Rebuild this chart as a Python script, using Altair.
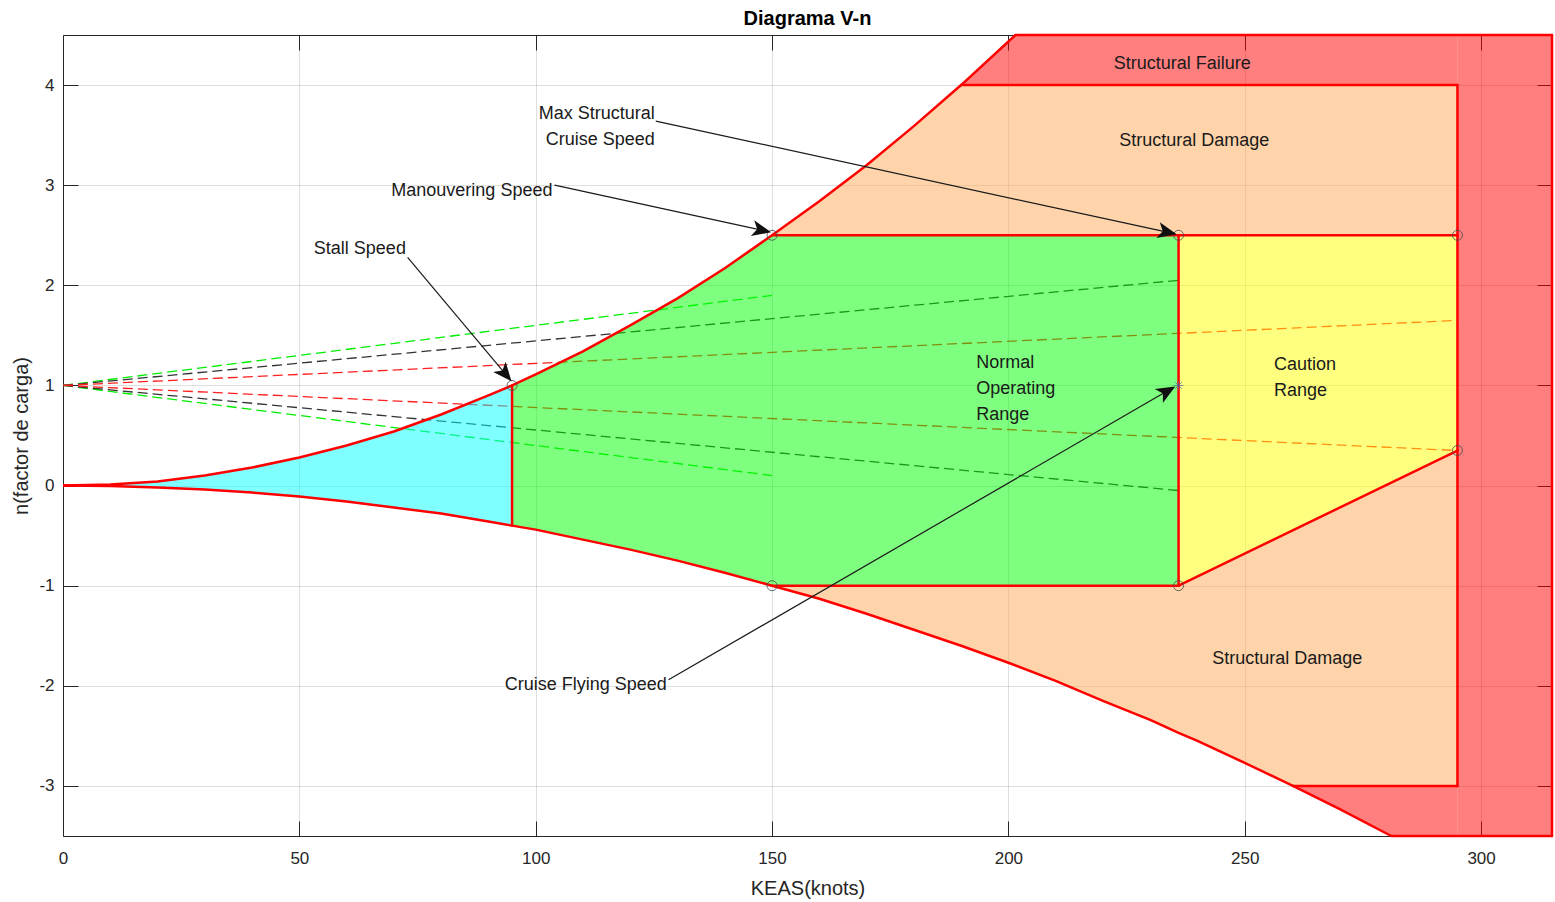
import math

import altair as alt
import numpy as np
import pandas as pd

# Positive stall boundary n = f(KEAS)
pos_keas = [0, 10, 20, 30, 40, 50, 60, 70, 80, 90, 95, 100, 110, 120, 130, 140, 150, 160, 170, 180, 190, 201.5]
pos_n = [0, 0.01, 0.04, 0.10, 0.18, 0.28, 0.40, 0.54, 0.71, 0.90, 1.00, 1.11, 1.34, 1.60, 1.87, 2.17, 2.50,
         2.84, 3.20, 3.59, 4.00, 4.50]

# Negative stall boundary
neg_keas = [0, 10, 20, 30, 40, 50, 60, 70, 80, 90, 95, 100, 110, 120, 130, 140, 150, 160, 170, 180, 190, 200,
            210, 220, 230, 236, 240, 250, 260.2, 270, 281]
neg_n = [0, -0.004, -0.02, -0.04, -0.07, -0.11, -0.16, -0.22, -0.28, -0.36, -0.40, -0.44, -0.54, -0.64, -0.75,
         -0.87, -1.00, -1.13, -1.28, -1.44, -1.60, -1.77, -1.95, -2.15, -2.34, -2.47, -2.55, -2.77, -3.00, -3.23,
         -3.50]

# Characteristic speeds (knots) and load-factor limits
v_stall, v_man, v_cruise, v_dive, v_max = 95, 150, 236, 295, 315
v_ult_pos, v_ult_neg = 190, 260.2
n_lim_pos, n_lim_neg, n_dive_neg = 2.5, -1.0, 0.35
n_ult_pos, n_ult_neg = 4.0, -3.0
n_top, n_bottom = 4.5, -3.5

# Region fill colours (drawn at half opacity)
region_colors = {
    "stall": "#00ffff",
    "normal": "#00ff00",
    "caution": "#ffff00",
    "damage": "#ffa955",
    "failure": "#ff0000",
}

# Gust lines, all starting at (0, 1)
gust_end_keas = [150, 150, 236, 236, 295, 295]
gust_end_n = [1.90, 0.10, 2.05, -0.05, 1.65, 0.35]
gust_color = ["#00ee00", "#00ee00", "#333333", "#333333", "#ff2020", "#ff2020"]

# Marked points of the envelope
mark_keas = [95, 150, 236, 295, 150, 236, 295]
mark_n = [1.0, 2.5, 2.5, 2.5, -1.0, -1.0, 0.35]
cruise_point = (236, 1.0)

# Callouts: end of the leader next to the text -> arrow tip
arrow_start_keas = [72.9, 104.0, 125.4, 128.1]
arrow_start_n = [2.28, 3.00, 3.64, -1.94]
arrow_tip_keas = [94.9, 149.8, 235.6, 235.3]
arrow_tip_n = [1.04, 2.53, 2.51, 0.99]

labels_center = ["Stall Speed", "Manouvering Speed", "Cruise Flying Speed",
                 "Structural Failure", "Structural Damage", "Structural Damage"]
labels_center_keas = [62.8, 86.5, 110.6, 236.8, 239.3, 259.0]
labels_center_n = [2.39, 2.97, -1.97, 4.24, 3.47, -1.71]
labels_left = ["Normal", "Operating", "Range", "Caution", "Range"]
labels_left_keas = [193.2, 193.2, 193.2, 256.2, 256.2]
labels_left_n = [1.25, 0.99, 0.73, 1.23, 0.97]
labels_right = ["Max Structural", "Cruise Speed"]
labels_right_keas = [125.2, 125.2]
labels_right_n = [3.74, 3.48]

x_ticks = [0, 50, 100, 150, 200, 250, 300]
y_ticks = [-3, -2, -1, 0, 1, 2, 3, 4]

W, H = 1489, 801
FONT = "Liberation Sans"
INK = "#262626"
RED = "#ff0000"

xs = alt.Scale(domain=[0, v_max], nice=False, zero=False)
ys = alt.Scale(domain=[n_bottom, n_top], nice=False, zero=False)


def upper(v):
    return float(np.interp(v, pos_keas, pos_n))


def lower(v):
    return float(np.interp(v, neg_keas, neg_n))


def slant(v):
    return float(np.interp(v, [v_cruise, v_dive], [n_lim_neg, n_dive_neg]))


grid_v = sorted(set(pos_keas) | set(neg_keas) | {v_cruise, v_dive, v_max})

# Plain hyphen for negative tick labels
minus_expr = "datum.value < 0 ? '-' + abs(datum.value) : '' + datum.value"

# Axes: labelled bottom/left with grid, inward ticks on all four sides
x_main = alt.Axis(values=x_ticks, orient="bottom", ticks=False, tickSize=0, domain=False, grid=True,
                  gridColor=INK, gridOpacity=0.15, labelFont=FONT, labelFontSize=17, labelColor=INK,
                  labelPadding=14, labelFlush=False, title="KEAS(knots)", titleFont=FONT, titleFontSize=20,
                  titleFontWeight="normal", titleColor=INK, titlePadding=12)
y_main = alt.Axis(values=y_ticks, orient="left", ticks=False, tickSize=0, domain=False, grid=True,
                  gridColor=INK, gridOpacity=0.15, labelFont=FONT, labelFontSize=17, labelColor=INK,
                  labelPadding=9, labelFlush=False, labelExpr=minus_expr, title="n(factor de carga)",
                  titleFont=FONT, titleFontSize=20, titleFontWeight="normal", titleColor=INK, titlePadding=7)


def tick_axis(orient, values):
    return alt.Axis(orient=orient, values=values, labels=False, domain=False, grid=False, ticks=True,
                    tickSize=15, tickColor=INK, tickWidth=1, offset=-15, title=None)


def region(name, v0, v1, top, bottom, axes=False):
    """One translucent band of the diagram between two boundaries."""
    df = pd.DataFrame([dict(keas=v, top=top(v), bottom=bottom(v)) for v in grid_v if v0 <= v <= v1])
    return alt.Chart(df).mark_area(opacity=0.5, color=region_colors[name]).encode(
        x=alt.X("keas:Q", scale=xs, axis=x_main if axes else None),
        y=alt.Y("top:Q", scale=ys, axis=y_main if axes else None),
        y2="bottom:Q",
    )


fill_layers = [
    region("stall", 0, v_stall, upper, lower, axes=True),
    region("normal", v_stall, v_cruise,
           lambda v: min(upper(v), n_lim_pos), lambda v: max(lower(v), n_lim_neg)),
    region("caution", v_cruise, v_dive, lambda v: n_lim_pos, slant),
    region("damage", v_man, v_dive, lambda v: min(upper(v), n_ult_pos), lambda v: n_lim_pos),
    region("damage", v_man, v_dive,
           lambda v: n_lim_neg if v <= v_cruise else slant(v), lambda v: max(lower(v), n_ult_neg)),
    region("failure", v_ult_pos, v_dive, lambda v: min(upper(v), n_top), lambda v: n_ult_pos),
    region("failure", v_dive, v_max, lambda v: n_top, lambda v: n_bottom),
    region("failure", v_ult_neg, v_dive, lambda v: n_ult_neg, lambda v: max(lower(v), n_bottom)),
]

# Gust lines (dashed), drawn under the translucent fills
gust = pd.DataFrame({
    "keas0": [0] * len(gust_end_keas), "n0": [1.0] * len(gust_end_keas),
    "keas1": gust_end_keas, "n1": gust_end_n, "color": gust_color,
})
gust_layer = alt.Chart(gust).mark_rule(strokeDash=[10, 5], strokeWidth=1.3).encode(
    x=alt.X("keas0:Q", scale=xs, axis=tick_axis("bottom", x_ticks)),
    y=alt.Y("n0:Q", scale=ys, axis=tick_axis("left", y_ticks)),
    x2="keas1:Q", y2="n1:Q",
    color=alt.Color("color:N", scale=None),
)

# Envelope outlines
curves = pd.DataFrame(
    [dict(curve="pos", keas=v, n=n) for v, n in zip(pos_keas, pos_n)]
    + [dict(curve="neg", keas=v, n=n) for v, n in zip(neg_keas, neg_n)]
)
curve_layer = alt.Chart(curves).mark_line(color=RED, strokeWidth=2.5, strokeJoin="round").encode(
    x=alt.X("keas:Q", scale=xs, axis=tick_axis("top", x_ticks)),
    y=alt.Y("n:Q", scale=ys, axis=tick_axis("right", y_ticks)),
    detail="curve:N",
    order="keas:Q",
)

segments = pd.DataFrame([
    (v_stall, lower(v_stall), v_stall, 1.0),
    (v_man, n_lim_pos, v_dive, n_lim_pos),
    (v_cruise, n_lim_neg, v_cruise, n_lim_pos),
    (v_man, n_lim_neg, v_cruise, n_lim_neg),
    (v_cruise, n_lim_neg, v_dive, n_dive_neg),
    (v_dive, n_ult_neg, v_dive, n_ult_pos),
    (v_ult_pos, n_ult_pos, v_dive, n_ult_pos),
    (v_ult_neg, n_ult_neg, v_dive, n_ult_neg),
    (pos_keas[-1], n_top, v_max, n_top),
    (v_max, n_top, v_max, n_bottom),
    (neg_keas[-1], n_bottom, v_max, n_bottom),
], columns=["keas0", "n0", "keas1", "n1"])
segment_layer = alt.Chart(segments).mark_rule(color=RED, strokeWidth=2.5, strokeCap="round").encode(
    x=alt.X("keas0:Q", scale=xs, axis=None),
    y=alt.Y("n0:Q", scale=ys, axis=None),
    x2="keas1:Q", y2="n1:Q",
)

points = pd.DataFrame({"keas": mark_keas, "n": mark_n})
point_layer = alt.Chart(points).mark_point(shape="circle", size=100, filled=False, color="#4d4d4d",
                                           strokeWidth=1, opacity=0.85).encode(
    x=alt.X("keas:Q", scale=xs, axis=None),
    y=alt.Y("n:Q", scale=ys, axis=None),
)
star_layer = alt.Chart(pd.DataFrame({"keas": [cruise_point[0]], "n": [cruise_point[1]]})).mark_point(
    shape="M-1,0L1,0M0,-1L0,1M-0.7,-0.7L0.7,0.7M-0.7,0.7L0.7,-0.7",
    size=90, filled=False, color="#4a6aa8", strokeWidth=1,
).encode(
    x=alt.X("keas:Q", scale=xs, axis=None),
    y=alt.Y("n:Q", scale=ys, axis=None),
)

# Callout arrows: leader line plus rotated arrowhead
sx = W / v_max
sy = H / (n_top - n_bottom)
HEAD = 9.5  # arrowhead path scale (px per unit)
arrow_rows = []
for x0, y0, x1, y1 in zip(arrow_start_keas, arrow_start_n, arrow_tip_keas, arrow_tip_n):
    dx = (x1 - x0) * sx
    dy = -(y1 - y0) * sy
    length = math.hypot(dx, dy)
    back = 1.4 * HEAD / length
    ang = math.degrees(math.atan2(dx, -dy)) % 360
    arrow_rows.append(dict(keas0=x0, n0=y0, keas_end=x1 - (x1 - x0) * back, n_end=y1 - (y1 - y0) * back,
                           keas_tip=x1, n_tip=y1, angle=ang))
arrows = pd.DataFrame(arrow_rows)

leader_layer = alt.Chart(arrows).mark_rule(color="#1a1a1a", strokeWidth=1.2).encode(
    x=alt.X("keas0:Q", scale=xs, axis=None),
    y=alt.Y("n0:Q", scale=ys, axis=None),
    x2="keas_end:Q", y2="n_end:Q",
)
head_layer = alt.Chart(arrows).mark_point(
    shape="M0,0L-0.85,2L0,1.5L0.85,2Z", size=(2 * HEAD) ** 2, filled=True, color="#111111", opacity=1,
).encode(
    x=alt.X("keas_tip:Q", scale=xs, axis=None),
    y=alt.Y("n_tip:Q", scale=ys, axis=None),
    angle=alt.Angle("angle:Q", scale=None),
)


def text_layer(texts, keas, ns, align):
    df = pd.DataFrame({"label": texts, "keas": keas, "n": ns})
    return alt.Chart(df).mark_text(font=FONT, fontSize=18, color="#1a1a1a", align=align,
                                   baseline="middle", dy=2.5).encode(
        x=alt.X("keas:Q", scale=xs, axis=None),
        y=alt.Y("n:Q", scale=ys, axis=None),
        text="label:N",
    )


chart = alt.layer(
    gust_layer,
    *fill_layers,
    curve_layer,
    segment_layer,
    point_layer,
    star_layer,
    leader_layer,
    head_layer,
    text_layer(labels_center, labels_center_keas, labels_center_n, "center"),
    text_layer(labels_left, labels_left_keas, labels_left_n, "left"),
    text_layer(labels_right, labels_right_keas, labels_right_n, "right"),
).resolve_axis(
    x="independent", y="independent"
).properties(
    width=W,
    height=H,
    autosize=alt.AutoSizeParams(type="none"),
    padding={"left": 63, "top": 35, "right": 3, "bottom": 66},
    background="white",
    title=alt.TitleParams("Diagrama V-n", font=FONT, fontSize=20, fontWeight="bold", color="#000000",
                          anchor="middle", baseline="bottom", offset=6, dy=21),
).configure_view(stroke=INK, strokeWidth=1)

chart.save("out.html", embed_options={"renderer": "svg", "actions": False})
